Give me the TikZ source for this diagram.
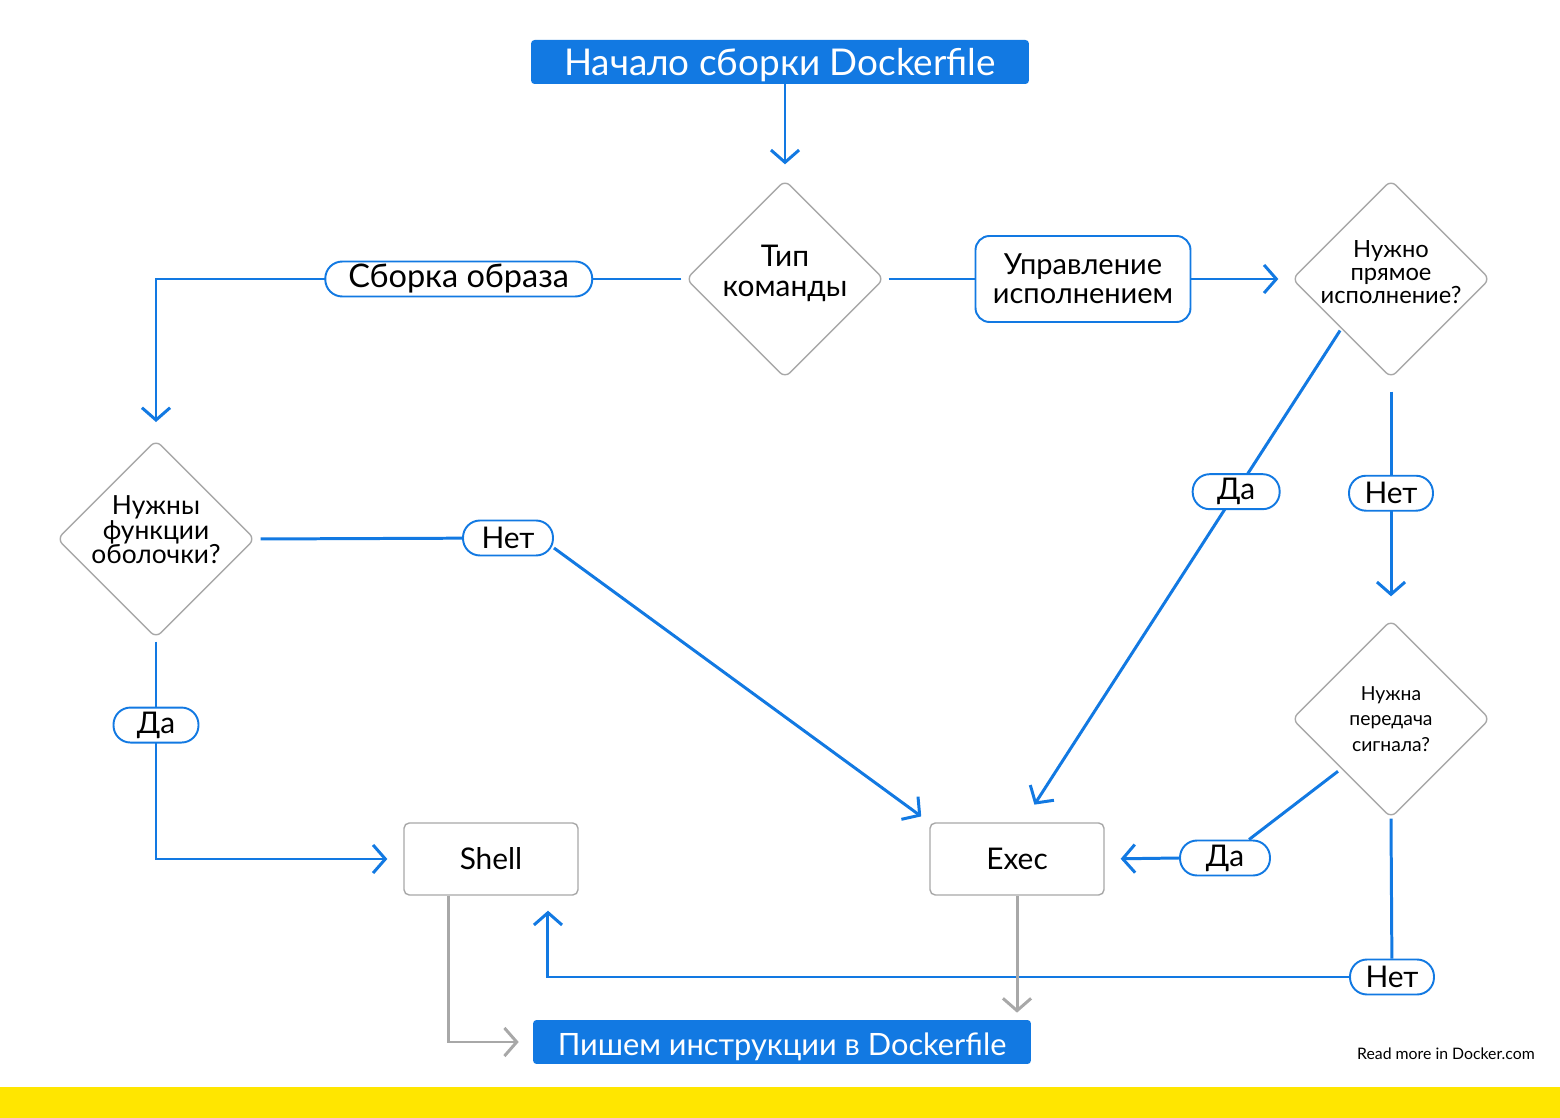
\documentclass[tikz,border=0pt]{standalone}
\usepackage{fontspec}
\setmainfont{Lato}
\usetikzlibrary{arrows.meta,positioning,shapes.geometric}
\definecolor{dblue}{HTML}{1279E2}
\definecolor{dgray}{HTML}{A8A8A8}
\definecolor{dyellow}{HTML}{FFE600}
\newcommand{\tightfont}[2]{\fontsize{#1}{#2}\selectfont\lineskiplimit=-20pt}
\tikzstyle{terminal}=[rectangle,fill=dblue,text=white,rounded corners=2pt,
minimum width=9.96cm,minimum height=0.88cm,inner sep=0pt,text height=0.6cm,text depth=0.07cm]
\tikzstyle{decision}=[diamond,draw=dgray,line width=0.8pt,rounded corners=4pt,
minimum width=3.96cm,minimum height=3.96cm,inner sep=0pt]
\tikzstyle{decisiontext}=[inner sep=0pt,align=center]
\tikzstyle{action}=[rectangle,draw=dgray,line width=0.8pt,rounded corners=3pt,
minimum width=3.48cm,minimum height=1.44cm,font=\fontsize{17}{20}\selectfont]
\tikzstyle{control}=[rectangle,draw=dblue,line width=1.1pt,rounded corners=0.28cm,
minimum width=4.3cm,minimum height=1.72cm,inner sep=0pt,align=center,font=\tightfont{16.5}{16.5}]
\tikzstyle{answer}=[rectangle,draw=dblue,line width=1.1pt,fill=white,rounded corners=0.34cm,
minimum height=0.7cm,inner sep=0pt,font=\fontsize{17}{20}\selectfont]
\tikzstyle{link}=[draw=dblue,line width=1.7pt]
\tikzstyle{flow}=[link,-{Straight Barb[length=7pt,width=16pt,line width=1.7pt]}]
\tikzstyle{gflow}=[draw=dgray,line width=1.7pt,-{Straight Barb[length=7pt,width=16pt,line width=1.7pt]}]

\begin{document}
\begin{tikzpicture}[x=0.02cm,y=-0.02cm]
            \useasboundingbox (0,0) rectangle (1560,1118);
            \fill[dyellow] (0,1087) rectangle (1560,1118);

            % TOP PART

            \node[terminal,font=\fontsize{21}{24}\selectfont] (start) at (780,62) {Начало сборки Dockerfile};
            \node[decision] (kind) at (785,279) {};
            \node[decisiontext,font=\tightfont{17}{17}] (kindtext) at (785,273) {Тип\\команды};
            \node[control] (manage) at (1083,279) {Управление\\исполнением};
            \node[decision] (direct) at (1391,279) {};
            \node[decisiontext,font=\tightfont{13.5}{13}] (directtext) at (1391,272) {Нужно\\прямое\\исполнение?};

            \draw[flow,shorten >=0.3cm] (kind.north |- start.south) -- (kind.north);
            \draw[flow,shorten <=0.08cm,shorten >=0.42cm] (kind.west) -| node[answer,pos=0.214,minimum width=5.34cm,font=\fontsize{18.5}{20}\selectfont] (build) {Сборка образа} (156,443);
            \draw[link,shorten <=0.08cm] (kind.east) -- (manage.west);
            \draw[flow,shorten >=0.26cm] (manage.east) -- (direct.west);

            % ACTION BOXES

            \node[action] (shell) at (491,859) {Shell};
            \node[action] (exec) at (1017,859) {Exec};

            % LEFT PART

            \node[decision] (shellq) at (156,539) {};
            \node[decisiontext,font=\tightfont{15}{14}] (shellqtext) at (156,530) {Нужны\\функции\\оболочки?};
            \node[answer,minimum width=1.8cm] (no1) at (508,538) {Нет};

            \draw[link,shorten <=0.1cm] (shellq.east) -- (no1);
            \draw[flow,shorten >=0.2cm] ([yshift=-0.2cm]no1.east) -- (exec.north west);
            \draw[flow,shorten <=0.06cm,shorten >=0.32cm] (shellq.south) |- node[answer,pos=0.196,minimum width=1.7cm] (yes1) {Да} (shell.west);

            % RIGHT PART

            \node[decision] (signal) at (1391,719) {};
            \node[decisiontext,font=\tightfont{11}{14.7}] (signaltext) at (1391,719) {Нужна\\передача\\сигнала?};
            \node[answer,minimum width=1.8cm] (yes3) at (1225,858) {Да};
            \node[answer,minimum width=1.68cm] (no3) at (1392,977) {Нет};

            \draw[flow,shorten <=0.04cm,shorten >=0.42cm] (direct.south west) -- node[answer,pos=0.33,minimum width=1.74cm] (yes2) {Да} ([xshift=0.12cm]exec.north);
            \draw[flow,shorten <=0.26cm,shorten >=0.46cm] (direct.south) -- node[answer,pos=0.476,minimum width=1.68cm] (no2) {Нет} (signal.north);
            \draw[link,shorten <=0.08cm] (signal.south west) -- (yes3);
            \draw[flow,shorten >=0.32cm] (yes3.west) -- (exec.east);
            \draw[link] (signal.south) -- (no3);
            \draw[flow,shorten >=0.3cm] (no3.west) -| ([xshift=1.14cm]shell.south);

            % BOTTOM PART

            \node[terminal,font=\fontsize{17.5}{22}\selectfont] (finish) at (782,1042) {Пишем инструкции в Dockerfile};
            \node[font=\fontsize{9}{11}\selectfont] (more) at (1446,1054) {Read more in Docker.com};

            \draw[gflow,shorten >=0.28cm] ([xshift=-0.86cm]shell.south) |- (finish.west);
            \draw[gflow,shorten >=0.14cm] (exec.south) -- (exec.south |- finish.north);

        \end{tikzpicture}
\end{document}
